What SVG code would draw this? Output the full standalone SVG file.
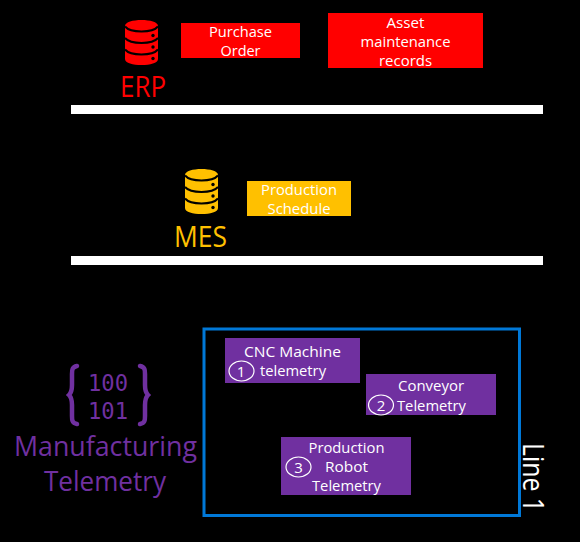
<svg xmlns="http://www.w3.org/2000/svg" width="580" height="542" viewBox="0 0 580 542">
<defs>
<style>
text{font-family:"Open Sans","Noto Sans","Liberation Sans",sans-serif;text-anchor:middle}
.t{font-size:15px;fill:#fff}
.y{fill:#ffc000}
.p{fill:#7030a0}
.r{fill:#f00}
.c{fill:none;stroke:#fff;stroke-width:1.200}
.bar{fill:#fff}
.m{font-family:"DejaVu Sans Mono","Liberation Mono",monospace;font-size:23px}
.b{font-size:29.500px}
.b2{font-size:27px}
.l{fill:none;stroke:#000;stroke-width:2}
</style>
<g id="db">
<path d="M0 6C0 2 8 0 16.500 0S33 2 33 6V39C33 43 25 45 16.500 45S0 43 0 39Z"/>
<path class="l" d="M0 6.500C3 10 10 11.500 16.500 11.500S30 10 33 6.500M0 18C3 21.500 10 23 16.500 23S30 21.500 33 18M0 29.500C3 33 10 34.500 16.500 34.500S30 33 33 29.500"/>
<circle cx="28" cy="15.500" r="1.700" fill="#000"/>
<circle cx="28" cy="27" r="1.700" fill="#000"/>
<circle cx="28" cy="38.500" r="1.700" fill="#000"/>
</g>
</defs>
<rect width="580" height="542" fill="#000"/>
<g id="connectors"></g>
<g id="erp-bar"><rect class="bar" x="71" y="105" width="472" height="9"/></g>
<g id="mes-bar"><rect class="bar" x="71" y="256" width="472" height="9"/></g>
<g id="erp">
<use href="#db" x="125" y="20" class="r"/>
<text x="143" y="97" class="r b" textLength="46" lengthAdjust="spacingAndGlyphs">ERP</text>
</g>
<g id="purchase-order">
<rect class="r" x="181" y="23" width="119" height="35"/>
<text class="t" x="240.500" y="37" textLength="63" lengthAdjust="spacingAndGlyphs">Purchase</text>
<text class="t" x="240.500" y="56" textLength="40" lengthAdjust="spacingAndGlyphs">Order</text>
</g>
<g id="asset">
<rect class="r" x="328" y="13" width="155" height="55"/>
<text class="t" x="405.500" y="28" textLength="38" lengthAdjust="spacingAndGlyphs">Asset</text>
<text class="t" x="405.500" y="47" textLength="90" lengthAdjust="spacingAndGlyphs">maintenance</text>
<text class="t" x="405.500" y="66" textLength="53" lengthAdjust="spacingAndGlyphs">records</text>
</g>
<g id="mes">
<use href="#db" x="185" y="169" class="y"/>
<text x="200.500" y="246.500" class="y b" textLength="53" lengthAdjust="spacingAndGlyphs">MES</text>
</g>
<g id="schedule">
<rect class="y" x="247" y="181" width="104" height="35"/>
<text class="t" x="299" y="195" textLength="76" lengthAdjust="spacingAndGlyphs">Production</text>
<text class="t" x="299" y="214" textLength="63" lengthAdjust="spacingAndGlyphs">Schedule</text>
</g>
<g id="telemetry">
<path fill="none" stroke="#7030a0" stroke-width="4.500" stroke-linecap="round" d="M77 366C72 367 72 370 72 374V385C72 391 71 393 69 395C71 397 72 399 72 405V416C72 420 72 423 77 424M140 366C145 367 145 370 145 374V385C145 391 146 393 148 395C146 397 145 399 145 405V416C145 420 145 423 140 424"/>
<text x="108" y="391" class="p m" textLength="40" lengthAdjust="spacingAndGlyphs">100</text>
<text x="108" y="419" class="p m" textLength="40" lengthAdjust="spacingAndGlyphs">101</text>
<text x="105.500" y="456" class="p b2" textLength="183" lengthAdjust="spacingAndGlyphs">Manufacturing</text>
<text x="105" y="490.500" class="p b2" textLength="122" lengthAdjust="spacingAndGlyphs">Telemetry</text>
</g>
<g id="line1">
<rect x="204" y="329" width="315.500" height="186.500" fill="none" stroke="#0078d7" stroke-width="3"/>
<text x="523" y="477.500" font-size="30" fill="#fff" textLength="69" lengthAdjust="spacingAndGlyphs" transform="rotate(90 523 477.500)">Line 1</text>
</g>
<g id="cnc">
<rect class="p" x="225" y="338" width="135" height="45"/>
<text class="t" x="292.500" y="357" textLength="97" lengthAdjust="spacingAndGlyphs">CNC Machine</text>
<text class="t" x="293" y="376" textLength="66" lengthAdjust="spacingAndGlyphs">telemetry</text>
<ellipse class="c" cx="241.500" cy="371" rx="12.500" ry="10"/>
<text class="t" x="241" y="376.500">1</text>
</g>
<g id="conveyor">
<rect class="p" x="366" y="374" width="130" height="41"/>
<text class="t" x="431" y="391" textLength="66" lengthAdjust="spacingAndGlyphs">Conveyor</text>
<text class="t" x="431.500" y="411" textLength="69" lengthAdjust="spacingAndGlyphs">Telemetry</text>
<ellipse class="c" cx="381" cy="405" rx="12.500" ry="10"/>
<text class="t" x="381" y="410.500">2</text>
</g>
<g id="robot">
<rect class="p" x="281" y="437" width="130" height="58"/>
<text class="t" x="346.500" y="453" textLength="76" lengthAdjust="spacingAndGlyphs">Production</text>
<text class="t" x="346.500" y="472" textLength="43" lengthAdjust="spacingAndGlyphs">Robot</text>
<text class="t" x="346.500" y="491" textLength="69" lengthAdjust="spacingAndGlyphs">Telemetry</text>
<ellipse class="c" cx="298.500" cy="467" rx="12.500" ry="10"/>
<text class="t" x="298.500" y="472.500">3</text>
</g>
</svg>
